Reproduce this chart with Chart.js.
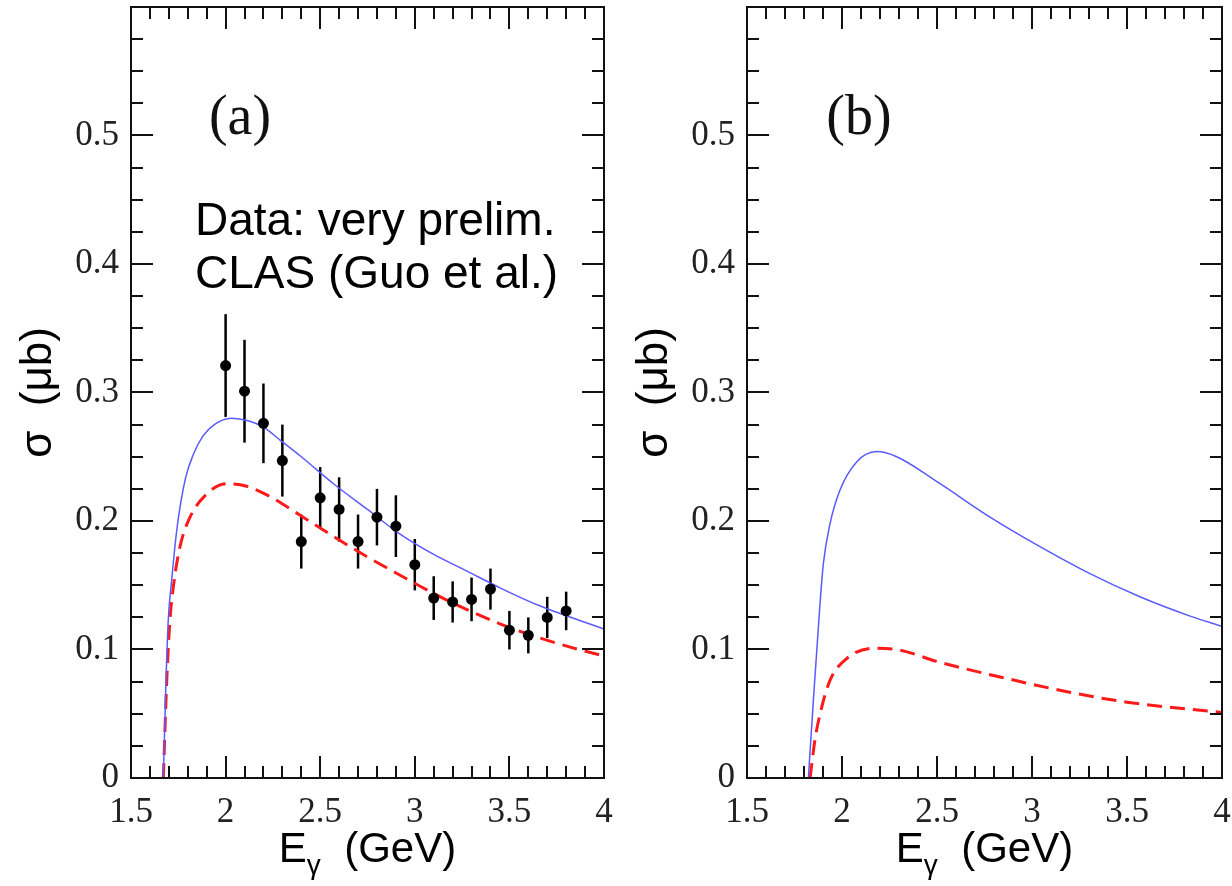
<!DOCTYPE html>
<html>
<head>
<meta charset="utf-8">
<script src="https://cdn.jsdelivr.net/npm/chart.js@4.4.0/dist/chart.umd.min.js"></script>
<style>
  html, body { margin: 0; padding: 0; background: #fff; }
  #wrap { position: relative; width: 1232px; height: 886px; }
  canvas { position: absolute; top: 0; }
</style>
</head>
<body>
<div id="wrap">
  <canvas id="chartA" width="616" height="886" style="left:0"></canvas>
  <canvas id="chartB" width="616" height="886" style="left:616px"></canvas>
</div>
<script>
// TICKS
const xTicks = [1.5, 2, 2.5, 3, 3.5, 4];
const yTicks = [0, 0.1, 0.2, 0.3, 0.4, 0.5];

// PANEL (a) - CLAS data points
const dataE = [2.0, 2.1, 2.2, 2.3, 2.4, 2.5, 2.6, 2.7, 2.8, 2.9, 3.0, 3.1, 3.2, 3.3, 3.4, 3.5, 3.6, 3.7, 3.8];
const dataSigma = [0.321, 0.301, 0.276, 0.247, 0.184, 0.218, 0.209, 0.184, 0.203, 0.196, 0.166, 0.140, 0.137, 0.139, 0.147, 0.115, 0.111, 0.125, 0.130];
const dataErr = [0.040, 0.040, 0.031, 0.028, 0.021, 0.024, 0.025, 0.021, 0.022, 0.024, 0.020, 0.017, 0.016, 0.017, 0.016, 0.015, 0.014, 0.016, 0.015];

// PANEL (a) - model curves
const blueAE = [1.671, 1.685, 1.697, 1.715, 1.742, 1.786, 1.83, 1.88, 1.94, 2.03, 2.12, 2.2, 2.288, 2.4, 2.57, 2.75, 2.92, 3.1, 3.276, 3.45, 3.66, 4.0];
const blueASigma = [0, 0.076, 0.123, 0.154, 0.193, 0.232, 0.252, 0.266, 0.275, 0.280, 0.278, 0.273, 0.263, 0.250, 0.229, 0.209, 0.190, 0.174, 0.161, 0.148, 0.134, 0.116];
const redAE = [1.671, 1.689, 1.706, 1.724, 1.759, 1.812, 1.90, 2.006, 2.112, 2.235, 2.394, 2.57, 2.75, 2.92, 3.1, 3.276, 3.45, 3.66, 3.83, 4.0];
const redASigma = [0, 0.076, 0.123, 0.149, 0.180, 0.203, 0.221, 0.229, 0.227, 0.219, 0.2045, 0.188, 0.172, 0.158, 0.1436, 0.131, 0.120, 0.109, 0.1015, 0.095];

// PANEL (b) - model curves
const blueBE = [1.823, 1.85, 1.87, 1.884, 1.902, 1.937, 1.989, 2.077, 2.183, 2.288, 2.516, 2.779, 3.042, 3.305, 3.568, 3.832, 4.0];
const blueBSigma = [0, 0.062, 0.105, 0.135, 0.167, 0.198, 0.224, 0.246, 0.254, 0.250, 0.229, 0.203, 0.180, 0.159, 0.141, 0.126, 0.118];
const redBE = [1.832, 1.858, 1.893, 1.937, 2.025, 2.165, 2.288, 2.516, 2.88, 3.19, 3.5, 4.0];
const redBSigma = [0, 0.03, 0.055, 0.076, 0.093, 0.101, 0.100, 0.090, 0.077, 0.067, 0.059, 0.051];

const toXY = (xs, ys) => xs.map((v, i) => ({ x: v, y: ys[i] }));

// frame, inward ticks, error bars, texts
const framePlugin = {
  id: "frame",
  beforeDatasetsDraw(chart) {
    const ctx = chart.ctx;
    const x = chart.scales.x, y = chart.scales.y;
    chart.data.datasets.forEach((ds) => {
      if (!ds.errY) return;
      ctx.save();
      ctx.strokeStyle = "#000";
      ctx.lineWidth = 2.5;
      ds.data.forEach((p, i) => {
        const px = x.getPixelForValue(p.x);
        ctx.beginPath();
        ctx.moveTo(px, y.getPixelForValue(p.y + ds.errY[i]));
        ctx.lineTo(px, y.getPixelForValue(p.y - ds.errY[i]));
        ctx.stroke();
      });
      ctx.restore();
    });
  },
  afterDraw(chart, args, opts) {
    const ctx = chart.ctx;
    const a = chart.chartArea;
    const x = chart.scales.x, y = chart.scales.y;
    ctx.save();
    ctx.strokeStyle = "#111";
    ctx.lineWidth = 2;
    ctx.strokeRect(a.left, a.top, a.right - a.left, a.bottom - a.top);
    ctx.beginPath();
    for (let i = 0; i <= 25; i++) {
      const px = Math.round(x.getPixelForValue(1.5 + i * 0.1));
      const len = i % 5 === 0 ? 22 : 12;
      ctx.moveTo(px, a.bottom); ctx.lineTo(px, a.bottom - len);
      ctx.moveTo(px, a.top); ctx.lineTo(px, a.top + len);
    }
    for (let i = 0; i <= 24; i++) {
      const py = Math.round(y.getPixelForValue(i * 0.025));
      const len = i % 4 === 0 ? 22 : 12;
      ctx.moveTo(a.left, py); ctx.lineTo(a.left + len, py);
      ctx.moveTo(a.right, py); ctx.lineTo(a.right - len, py);
    }
    ctx.stroke();

    // panel label
    ctx.fillStyle = "#111";
    ctx.font = "56px 'Liberation Serif'";
    ctx.textAlign = "center";
    ctx.textBaseline = "alphabetic";
    ctx.fillText(opts.label, opts.labelX, 134);

    // annotation
    if (opts.note) {
      ctx.fillStyle = "#000";
      ctx.font = "46px 'Liberation Sans'";
      ctx.textAlign = "left";
      opts.note.forEach((t, i) => ctx.fillText(t, 195, 235 + i * 53));
    }

    // x title  E_gamma (GeV)
    const big = "42px 'Liberation Sans'", small = "28px 'Liberation Sans'";
    ctx.font = big;
    const wE = ctx.measureText("E").width;
    const wRest = ctx.measureText("  (GeV)").width;
    ctx.font = small;
    const wG = ctx.measureText("γ").width;
    const total = wE + wG + wRest;
    let cx = (a.left + a.right) / 2 - total / 2;
    ctx.fillStyle = "#000";
    ctx.textAlign = "left";
    ctx.font = big;
    ctx.fillText("E", cx, 862);
    cx += wE;
    ctx.font = small;
    ctx.fillText("γ", cx, 874);
    cx += wG;
    ctx.font = big;
    ctx.fillText("  (GeV)", cx, 862);
    ctx.restore();
  },
};

function makeOptions(label, labelX, note, padRight) {
  return {
    responsive: false,
    animation: false,
    layout: { padding: { top: 7, right: padRight, left: 0, bottom: 0 } },
    plugins: {
      legend: { display: false },
      tooltip: { enabled: false },
      frame: { label: label, labelX: labelX, note: note },
    },
    scales: {
      x: {
        type: "linear",
        min: 1.5,
        max: 4,
        grid: { display: false },
        border: { display: false },
        afterBuildTicks: (s) => { s.ticks = xTicks.map((v) => ({ value: v })); },
        afterFit: (s) => { s.height = 108; s.paddingLeft = 0; s.paddingRight = 0; },
        ticks: {
          color: "#222",
          padding: 6,
          maxRotation: 0,
          font: { family: "'Liberation Serif'", size: 35 },
          callback: (v) => String(Math.round(v * 10) / 10),
        },
      },
      y: {
        type: "linear",
        min: 0,
        max: 0.6,
        grid: { display: false },
        border: { display: false },
        afterBuildTicks: (s) => { s.ticks = yTicks.map((v) => ({ value: v })); },
        afterFit: (s) => { s.width = 131; s.paddingTop = 0; s.paddingBottom = 0; },
        ticks: {
          color: "#222",
          padding: 4,
          font: { family: "'Liberation Serif'", size: 35 },
          callback: (v) => String(Math.round(v * 10) / 10),
        },
        title: {
          display: true,
          text: "σ  (μb)",
          color: "#000",
          padding: { top: 12 },
          font: { family: "'Liberation Sans'", size: 44 },
        },
      },
    },
  };
}

const blueStyle = { showLine: true, pointRadius: 0, borderColor: "#5a5aff", borderWidth: 1.5, cubicInterpolationMode: "monotone", fill: false };
const redStyle = { showLine: true, pointRadius: 0, borderColor: "#ff1a1a", borderWidth: 3, borderDash: [15, 8], cubicInterpolationMode: "monotone", fill: false };

new Chart(document.getElementById("chartA"), {
  type: "scatter",
  data: {
    datasets: [
      { label: "CLAS", data: toXY(dataE, dataSigma), errY: dataErr, pointRadius: 5.5, pointBackgroundColor: "#000", pointBorderWidth: 0, showLine: false },
      Object.assign({ label: "model full", data: toXY(blueAE, blueASigma) }, blueStyle),
      Object.assign({ label: "model partial", data: toXY(redAE, redASigma) }, redStyle),
    ],
  },
  options: makeOptions("(a)", 240, ["Data: very prelim.", "CLAS (Guo et al.)"], 12),
  plugins: [framePlugin],
});

new Chart(document.getElementById("chartB"), {
  type: "scatter",
  data: {
    datasets: [
      Object.assign({ label: "model full", data: toXY(blueBE, blueBSigma) }, blueStyle),
      Object.assign({ label: "model partial", data: toXY(redBE, redBSigma) }, redStyle),
    ],
  },
  options: makeOptions("(b)", 243, null, 10),
  plugins: [framePlugin],
});
</script>
</body>
</html>
